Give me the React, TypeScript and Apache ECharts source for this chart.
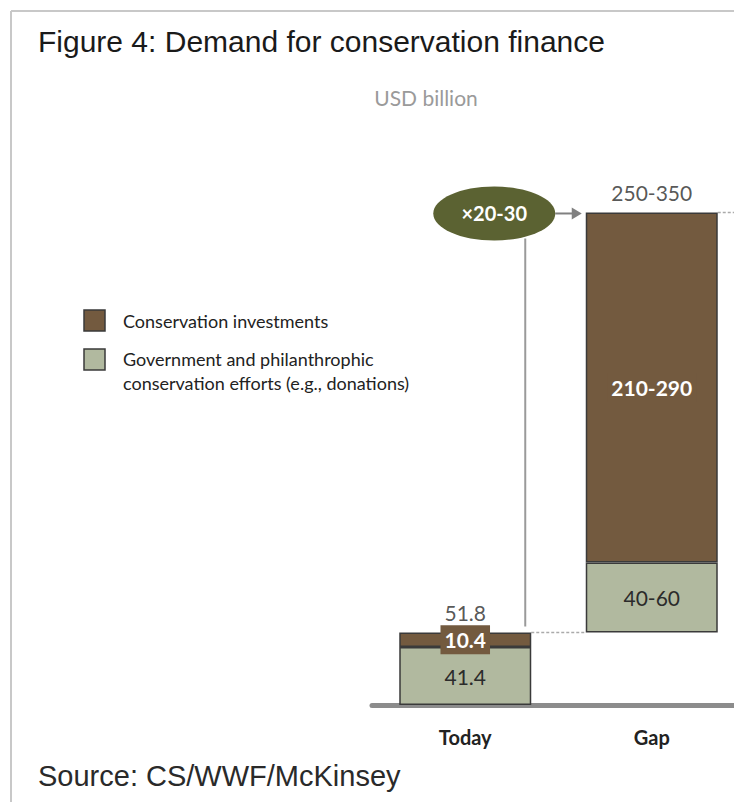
import React, { useEffect, useRef } from "react";
import * as echarts from "echarts";

const categories = ["Today", "Gap"];
const baseOffsets = [0, 51.8];
const govValues = [41.4, 50];
const investValues = [10.4, 250];
const govLabels = ["41.4", "40-60"];
const investLabels = ["10.4", "210-290"];
const totalLabels = ["51.8", "250-350"];
const seriesNames = [
  "Conservation investments",
  "Government and philanthrophic\nconservation efforts (e.g., donations)",
];
const multiplierLabel = "\u00d720-30";
const titleText = "Figure 4: Demand for conservation finance";
const unitText = "USD billion";
const sourceText = "Source: CS/WWF/McKinsey";

const BROWN = "#735a3f";
const GREEN = "#b1b99f";
const OLIVE = "#5b6232";
const EDGE = "#3a3a3a";
const CAL = "Lato, 'Open Sans', sans-serif";
const ARIAL = "'Liberation Sans', Arial, sans-serif";

export default function App() {
  const ref = useRef<HTMLDivElement>(null);
  useEffect(() => {
    const chart = echarts.init(ref.current!, null, { renderer: "svg" });
    const totals = categories.map((_, i) => baseOffsets[i] + govValues[i] + investValues[i]);
    chart.setOption({
      animation: false,
      grid: { left: 372, top: 145, width: 373, height: 560 },
      xAxis: {
        type: "category",
        data: categories,
        axisLine: { show: true, lineStyle: { color: "#8c8c8c", width: 5 } },
        axisTick: { show: false },
        axisLabel: { color: "#222", fontSize: 20, fontWeight: "bold", fontFamily: CAL, margin: 22 },
      },
      yAxis: { type: "value", min: 0, max: 400, show: false, splitLine: { show: false } },
      series: [
        {
          type: "bar",
          stack: "s",
          barWidth: 132,
          data: baseOffsets,
          itemStyle: { color: "transparent" },
          silent: true,
        },
        {
          type: "bar",
          name: seriesNames[1],
          stack: "s",
          barWidth: 132,
          data: govValues,
          itemStyle: { color: GREEN, borderColor: EDGE, borderWidth: 1.5 },
          label: {
            show: true,
            position: "inside",
            formatter: (p: any) => govLabels[p.dataIndex],
            color: "#2b2b2b",
            fontSize: 21,
            fontFamily: CAL,
          },
        },
        {
          type: "bar",
          name: seriesNames[0],
          stack: "s",
          barWidth: 132,
          data: investValues,
          itemStyle: { color: BROWN, borderColor: EDGE, borderWidth: 1.5 },
          label: {
            show: true,
            position: "inside",
            formatter: (p: any) => investLabels[p.dataIndex],
            color: "#fff",
            fontSize: 21,
            fontWeight: "bold",
            fontFamily: CAL,
            backgroundColor: BROWN,
            padding: [5, 4, 3, 4],
          },
        },
        {
          type: "scatter",
          data: totals,
          symbolSize: 0,
          silent: true,
          label: {
            show: true,
            position: "top",
            distance: 9,
            formatter: (p: any) => totalLabels[p.dataIndex],
            color: "#2b2b2b",
            fontSize: 21,
            fontFamily: CAL,
          },
        },
      ],
    });

    const px = (c: string, v: number) => chart.convertToPixel({ gridIndex: 0 }, [c, v]) as number[];
    const pToday = px(categories[0], totals[0]);
    const pGap = px(categories[1], totals[1]);
    const half = 66;
    const ex = pToday[0] + 29;
    const ey = pGap[1] + 1;
    const rx = 61;
    const ry = 27;
    const arrowEnd = pGap[0] - half - 4;
    const vx = pToday[0] + 60;

    chart.setOption({
      graphic: [
        { type: "line", shape: { x1: 11, y1: 11, x2: 734, y2: 11 }, style: { stroke: "#c8c8c8", lineWidth: 2 } },
        { type: "line", shape: { x1: 11, y1: 11, x2: 11, y2: 802 }, style: { stroke: "#c8c8c8", lineWidth: 2 } },
        {
          type: "text",
          x: 38,
          y: 41,
          style: { text: titleText, fontSize: 30, fontFamily: ARIAL, fill: "#1a1a1a", verticalAlign: "middle" },
        },
        {
          type: "text",
          x: 426,
          y: 97,
          style: { text: unitText, fontSize: 21, fontFamily: CAL, fill: "#9a9a9a", align: "center", verticalAlign: "middle" },
        },
        {
          type: "text",
          x: 38,
          y: 776,
          style: { text: sourceText, fontSize: 29, fontFamily: ARIAL, fill: "#2a2a2a", verticalAlign: "middle" },
        },
        // legend
        { type: "rect", shape: { x: 84, y: 310, width: 21, height: 21 }, style: { fill: BROWN, stroke: EDGE, lineWidth: 1.5 } },
        {
          type: "text",
          x: 123,
          y: 309,
          style: { text: seriesNames[0], fontSize: 18, lineHeight: 24, fontFamily: CAL, fill: "#222", verticalAlign: "top" },
        },
        { type: "rect", shape: { x: 84, y: 349, width: 21, height: 21 }, style: { fill: GREEN, stroke: EDGE, lineWidth: 1.5 } },
        {
          type: "text",
          x: 123,
          y: 347,
          style: { text: seriesNames[1], fontSize: 18, lineHeight: 24, fontFamily: CAL, fill: "#222", verticalAlign: "top" },
        },
        // dashed connectors
        {
          type: "line",
          shape: { x1: pToday[0] + half, y1: pToday[1], x2: pGap[0] - half, y2: pToday[1] },
          style: { stroke: "#aaa", lineWidth: 1.5, lineDash: [3, 2] },
        },
        {
          type: "line",
          shape: { x1: pGap[0] + half, y1: pGap[1], x2: 734, y2: pGap[1] },
          style: { stroke: "#aaa", lineWidth: 1.5, lineDash: [3, 2] },
        },
        // vertical line
        {
          type: "line",
          shape: { x1: vx, y1: ey + ry - 2, x2: vx, y2: pToday[1] - 6 },
          style: { stroke: "#9a9a9a", lineWidth: 2 },
        },
        // arrow
        {
          type: "line",
          shape: { x1: ex + rx, y1: ey, x2: arrowEnd - 8, y2: ey },
          style: { stroke: "#808080", lineWidth: 2 },
        },
        {
          type: "polygon",
          shape: { points: [[arrowEnd - 10, ey - 6], [arrowEnd, ey], [arrowEnd - 10, ey + 6]] },
          style: { fill: "#808080" },
        },
        // ellipse
        { type: "ellipse", shape: { cx: ex, cy: ey, rx, ry }, style: { fill: OLIVE } },
        {
          type: "text",
          x: ex,
          y: ey,
          style: {
            text: multiplierLabel,
            fontSize: 20,
            fontWeight: "bold",
            fontFamily: CAL,
            fill: "#fff",
            align: "center",
            verticalAlign: "middle",
          },
        },
      ],
    });
    return () => chart.dispose();
  }, []);
  return (
    <div style={{ position: "absolute", left: 0, top: 0, width: 734, height: 802, overflow: "hidden" }}>
      <div ref={ref} style={{ width: 770, height: 802 }} />
    </div>
  );
}
